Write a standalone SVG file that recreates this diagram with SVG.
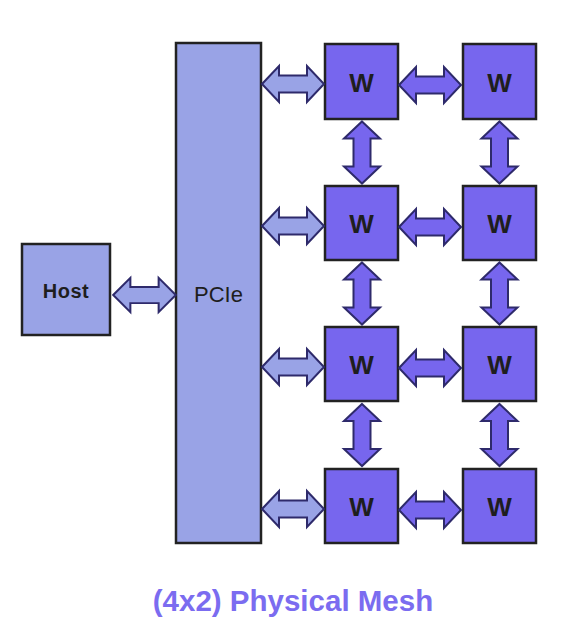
<svg xmlns="http://www.w3.org/2000/svg" xmlns:xlink="http://www.w3.org/1999/xlink" width="562" height="634" viewBox="0 0 562 634">
<style>
.light{fill:#99A3E6;stroke:#222;stroke-width:2.5}
.w{fill:#7766EE;stroke:#222;stroke-width:2.5}
.wt{font-family:"Liberation Sans",Arial,sans-serif;font-weight:bold;font-size:26px;fill:#1e1e1e;text-anchor:middle}
.arrL{fill:#99A3E6;stroke:#2E2A6B;stroke-width:2}
.arrW{fill:#7766EE;stroke:#2E2A6B;stroke-width:2}
</style>
<defs>
<path id="dar" d="M-31,0 L-14,-18 L-14,-8.5 L14,-8.5 L14,-18 L31,0 L14,18 L14,8.5 L-14,8.5 L-14,18 Z"/>
</defs>
<rect width="562" height="634" fill="#fff"/>
<g id="host">
<rect class="light" x="22" y="244" width="88" height="91"/>
<text x="66" y="298" font-family="Liberation Sans,Arial,sans-serif" font-weight="bold" font-size="20" letter-spacing="0.5" fill="#1e1e1e" text-anchor="middle">Host</text>
</g>
<g id="pcie">
<rect class="light" x="176" y="43" width="85" height="500"/>
<text x="218.5" y="302" font-family="Liberation Sans,Arial,sans-serif" font-size="22" fill="#1e1e1e" text-anchor="middle">PCIe</text>
</g>
<g id="w11"><rect class="w" x="325" y="44" width="73" height="75"/><text class="wt" x="361.5" y="92">W</text></g>
<g id="w12"><rect class="w" x="463" y="44" width="73" height="75"/><text class="wt" x="499.5" y="92">W</text></g>
<g id="w21"><rect class="w" x="325" y="186" width="73" height="74"/><text class="wt" x="361.5" y="233">W</text></g>
<g id="w22"><rect class="w" x="463" y="186" width="73" height="74"/><text class="wt" x="499.5" y="233">W</text></g>
<g id="w31"><rect class="w" x="325" y="327" width="73" height="74"/><text class="wt" x="361.5" y="374">W</text></g>
<g id="w32"><rect class="w" x="463" y="327" width="73" height="74"/><text class="wt" x="499.5" y="374">W</text></g>
<g id="w41"><rect class="w" x="325" y="469" width="73" height="74"/><text class="wt" x="361.5" y="516">W</text></g>
<g id="w42"><rect class="w" x="463" y="469" width="73" height="74"/><text class="wt" x="499.5" y="516">W</text></g>
<g id="connectors">
<use xlink:href="#dar" href="#dar" class="arrL" transform="translate(144.5,295) scale(1.01,0.95)"/>
<use xlink:href="#dar" href="#dar" class="arrL" transform="translate(293,84)"/>
<use xlink:href="#dar" href="#dar" class="arrL" transform="translate(293,226)"/>
<use xlink:href="#dar" href="#dar" class="arrL" transform="translate(293,367)"/>
<use xlink:href="#dar" href="#dar" class="arrL" transform="translate(293,509)"/>
<use xlink:href="#dar" href="#dar" class="arrW" transform="translate(430,85)"/>
<use xlink:href="#dar" href="#dar" class="arrW" transform="translate(430,227)"/>
<use xlink:href="#dar" href="#dar" class="arrW" transform="translate(430,368)"/>
<use xlink:href="#dar" href="#dar" class="arrW" transform="translate(430,510)"/>
<use xlink:href="#dar" href="#dar" class="arrW" transform="translate(362,152.5) rotate(90)"/>
<use xlink:href="#dar" href="#dar" class="arrW" transform="translate(362,293.5) rotate(90)"/>
<use xlink:href="#dar" href="#dar" class="arrW" transform="translate(362,435) rotate(90)"/>
<use xlink:href="#dar" href="#dar" class="arrW" transform="translate(499.5,152.5) rotate(90)"/>
<use xlink:href="#dar" href="#dar" class="arrW" transform="translate(499.5,293.5) rotate(90)"/>
<use xlink:href="#dar" href="#dar" class="arrW" transform="translate(499.5,435) rotate(90)"/>
</g>
<text x="293" y="611" font-family="Liberation Sans,Arial,sans-serif" font-weight="bold" font-size="29.5" fill="#7B6CF0" text-anchor="middle">(4x2) Physical Mesh</text>
</svg>
